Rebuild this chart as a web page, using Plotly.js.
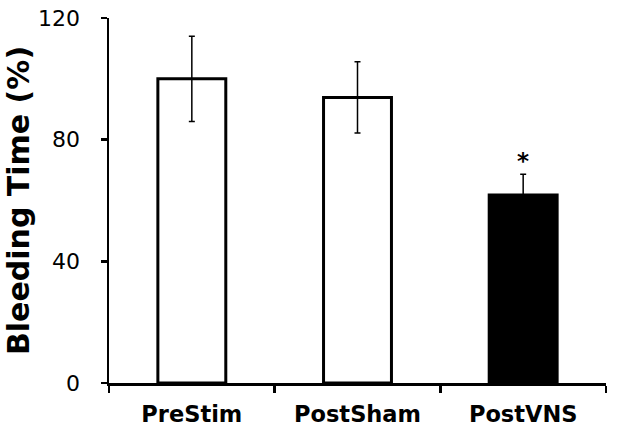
<!DOCTYPE html>
<html>
<head>
<meta charset="utf-8">
<script src="https://cdn.plot.ly/plotly-3.0.1.min.js"></script>
<style>
  html, body { margin: 0; padding: 0; background: #fff; }
  #my_graph { width: 618px; height: 433px; }
</style>
</head>
<body>
<div id="my_graph"></div>
<script>
// values
const groups = ['PreStim', 'PostSham', 'PostVNS'];
const bleeding_time = [100, 93.9, 61.8];
const sem = [14, 11.7, 6.8];
const bar_colors = ['#ffffff', '#ffffff', '#000000'];
const y_ticks = [0, 40, 80, 120];

const font_name = '"DejaVu Sans", Verdana, sans-serif';

const data = [{
    type: 'bar',
    x: groups,
    y: bleeding_time,
    marker: {color: bar_colors, line: {color: '#000', width: 3}},
    error_y: {type: 'data', array: sem, visible: true, color: '#000', thickness: 1.5, width: 3},
    hoverinfo: 'none'
}];

const layout = {
    width: 618,
    height: 433,
    margin: {l: 109, r: 12, t: 18, b: 50},
    paper_bgcolor: '#fff',
    plot_bgcolor: '#fff',
    showlegend: false,
    bargap: 0.59,
    font: {family: font_name, color: '#000'},
    xaxis: {
        type: 'category',
        range: [-0.5, 2.5],
        showline: true, linecolor: '#000', linewidth: 2.5,
        ticks: 'outside', tickson: 'boundaries', ticklen: 7, tickwidth: 2.5, tickcolor: '#000',
        ticklabelstandoff: 9,
        showgrid: false, zeroline: false,
        tickfont: {family: font_name, size: 22.5, color: '#000', weight: 'bold'}
    },
    yaxis: {
        range: [0, 120],
        tickvals: y_ticks,
        showline: true, linecolor: '#000', linewidth: 2.5,
        ticks: 'outside', ticklen: 6, tickwidth: 2.5, tickcolor: '#000',
        ticklabelstandoff: 16,
        showgrid: false, zeroline: false,
        tickfont: {family: font_name, size: 22, color: '#000'},
        title: {text: '<b>Bleeding Time (%)</b>', font: {family: font_name, size: 30, color: '#000'}, standoff: 0}
    },
    annotations: [{
        x: 'PostVNS', y: bleeding_time[2] + sem[2],
        text: '<b>*</b>', showarrow: false,
        yanchor: 'bottom', yshift: -2,
        font: {family: font_name, size: 23, color: '#000'}
    }]
};

Plotly.newPlot('my_graph', data, layout, {staticPlot: true});
</script>
</body>
</html>
